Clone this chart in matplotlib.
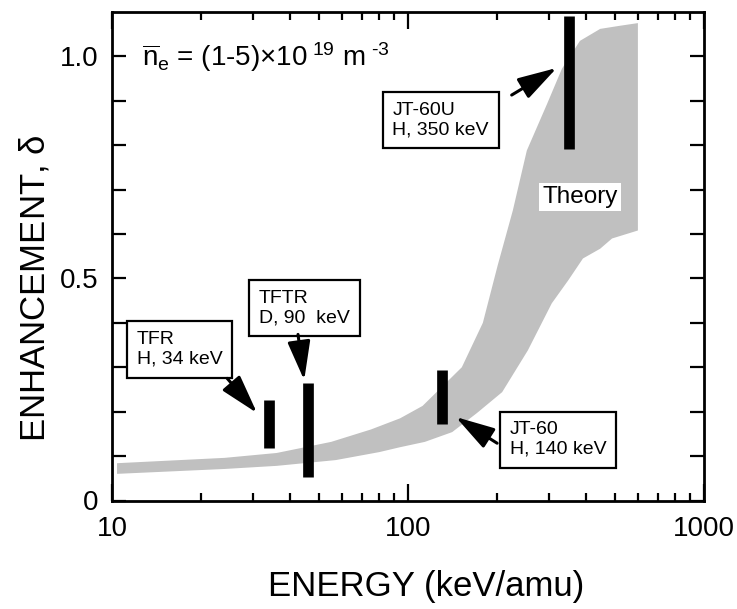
import numpy as np
import matplotlib
matplotlib.use("Agg")
import matplotlib.pyplot as plt

plt.rcParams['font.family'] = ['Liberation Sans', 'DejaVu Sans']
plt.rcParams['mathtext.fontset'] = 'custom'
plt.rcParams['mathtext.rm'] = 'Liberation Sans'
plt.rcParams['mathtext.it'] = 'Liberation Sans'

# Theory band (keV/amu, enhancement)
upper_x = [10.4, 24, 36, 55, 75, 94, 112, 152, 179, 201, 226, 252, 295, 331, 381, 446, 520, 598]
upper_y = [0.084, 0.096, 0.107, 0.132, 0.16, 0.185, 0.213, 0.30, 0.40, 0.53, 0.653, 0.788,
           0.893, 0.972, 1.035, 1.062, 1.069, 1.075]
lower_x = [10.4, 24, 36, 57, 80, 94, 114, 141, 171, 208, 254, 306, 348, 390, 446, 489, 598]
lower_y = [0.060, 0.071, 0.078, 0.091, 0.109, 0.120, 0.132, 0.154, 0.197, 0.244, 0.338,
           0.444, 0.496, 0.545, 0.567, 0.59, 0.608]

# Experiments
exp_names = ['TFR\nH, 34 keV', 'TFTR\nD, 90  keV', 'JT-60\nH, 140 keV', 'JT-60U\nH, 350 keV']
exp_energy = [34, 46, 130, 350]
exp_low = [0.119, 0.054, 0.173, 0.791]
exp_high = [0.227, 0.265, 0.293, 1.091]

# label boxes: centre, arrow start, arrow tip
box_pos = [(16.9, 0.340), (44.7, 0.433), (322, 0.137), (129, 0.857)]
arrow_from = [(24.5, 0.275), (42.5, 0.374), (200, 0.129), (224, 0.913)]
arrow_to = [(30.9, 0.197), (44.6, 0.271), (145, 0.188), (318, 0.974)]

fig = plt.figure(figsize=(7.37, 6.09), dpi=100)
ax = fig.add_axes([112 / 737, (609 - 500.5) / 609, (704 - 112) / 737, (500.5 - 12) / 609])
ax.set_xscale('log')

band_x = np.concatenate([upper_x, lower_x[::-1]])
band_y = np.concatenate([upper_y, lower_y[::-1]])
ax.fill(band_x, band_y, color='#c0c0c0', lw=0, zorder=1)

ax.vlines(exp_energy, exp_low, exp_high, colors='k', lw=7.7, capstyle='butt', zorder=3)

for name, bp, a0, a1 in zip(exp_names, box_pos, arrow_from, arrow_to):
    ax.text(bp[0], bp[1], name, fontsize=14, ha='center', va='center',
            multialignment='left', linespacing=1.2, zorder=4,
            bbox=dict(boxstyle='square,pad=0.5', fc='white', ec='k', lw=1.6))
    ax.annotate('', xy=a1, xytext=a0,
                arrowprops=dict(arrowstyle='-|>,head_length=1.2,head_width=0.35',
                                mutation_scale=20, color='k', lw=2.2,
                                shrinkA=0, shrinkB=0), zorder=4)

ax.text(381, 0.683, 'Theory', fontsize=17.5, ha='center', va='center', zorder=4,
        bbox=dict(boxstyle='square,pad=0.12', fc='white', ec='none'))

hyphen = '\u2010'
ne_label = (r'$\overline{\rm n}_{\rm e}$ = (1-5)$\times$10$^{\ 19}$ m$^{\ '
            + hyphen + r'3}$')
ax.text(12.6, 0.979, ne_label, fontsize=20, ha='left', va='baseline')

ax.set_xlim(10, 1000)
ax.set_ylim(0, 1.1)
ax.set_yticks(np.arange(0, 1.05, 0.1))
ax.set_yticklabels(['0', '', '', '', '', '0.5', '', '', '', '', '1.0'])
ax.set_xticks([10, 100, 1000])
ax.set_xticklabels(['10', '100', '1000'])

ax.tick_params(axis='both', which='both', direction='in', top=True, right=True,
               labelsize=20, width=1.6)
ax.tick_params(axis='x', which='major', length=12, pad=11)
ax.tick_params(axis='x', which='minor', length=6)
ax.tick_params(axis='y', which='major', length=10, pad=10)
for s in ax.spines.values():
    s.set_linewidth(2)

ax.set_xlabel('ENERGY (keV/amu)', fontsize=25)
ax.xaxis.set_label_coords(0.53, -0.142)
ax.set_ylabel(r'ENHANCEMENT, $\delta$', fontsize=25)
ax.yaxis.set_label_coords(-0.103, 0.435)

fig.savefig('out.png', dpi=100)
